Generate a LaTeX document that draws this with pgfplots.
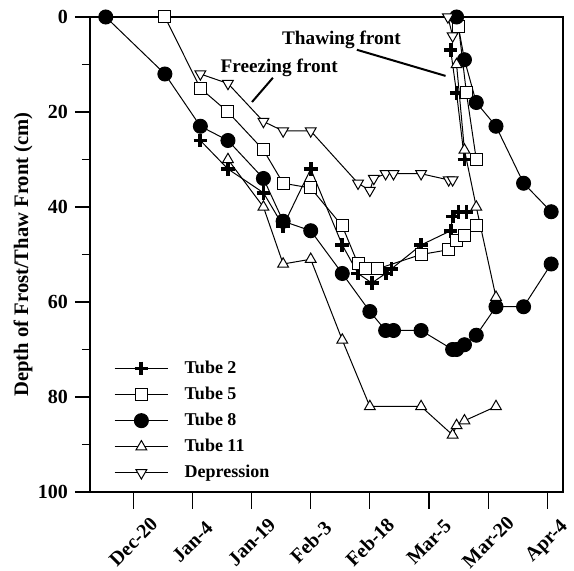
\documentclass[border=0pt]{standalone}
\usepackage{fontspec}
\setmainfont{Liberation Serif}
\usepackage{pgfplots}
\pgfplotsset{compat=1.18}
\begin{document}
\begin{tikzpicture}
\begin{axis}[
  scale only axis, width=236.5pt, height=237.5pt,
  xmin=-11, xmax=109, ymin=0, ymax=100, y dir=reverse,
  clip=false,
  xtick={0,15,30,45,60,75,90,105},
  xticklabels={Dec-20,Jan-4,Jan-19,Feb-3,Feb-18,Mar-5,Mar-20,Apr-4},
  xtick pos=lower, xticklabel pos=lower,
  ytick={0,20,40,60,80,100}, minor ytick={10,30,50,70,90},
  ytick pos=left,
  tick align=outside,
  major tick length=7.5pt, minor tick length=4pt,
  xtick style={/pgfplots/major tick length=8.5pt},
  tick style={black, line width=0.6pt},
  axis line style={line width=0.7pt},
  /pgf/number format/assume math mode=true,
  tick label style={font=\fontsize{10}{12}\selectfont\bfseries},
  xticklabel style={yshift=-17.5pt, rotate=45, anchor=center},
  every axis y label/.style={at={(axis description cs:-0.1416,0.5)}, rotate=90, anchor=center},
  ylabel={Depth of Frost/Thaw Front (cm)},
  ylabel style={font=\fontsize{10.3}{12}\selectfont\bfseries},
  legend cell align=left,
  legend style={at={(axis cs:-6.5,70.6)}, anchor=north west, draw=none, fill=none,
    font=\fontsize{9}{10}\selectfont\bfseries, row sep=1.3pt, column sep=6pt},
  legend image code/.code={\draw[mark repeat=2,mark phase=2,#1] plot coordinates {(0cm,0cm) (0.47cm,0cm) (0.94cm,0cm)};},
  every axis plot/.append style={black, line width=0.5pt},
]
% Tube 2
\addplot[mark=+, mark size=3.4pt, mark options={line width=1.9pt}] coordinates {
(17,26) (24,32) (33,37) (38,44) (45,32) (53,48) (57,54) (60.5,56) (64,54) (65.5,53) (73,48) (80.5,45) (81,42) (82.5,41) (84.5,41)};
\addlegendentry{Tube 2}
% Tube 5
\addplot[mark=square*, mark size=3pt, mark options={fill=white, line width=0.5pt}] coordinates {
(8,0) (17,15) (24,20) (33,28) (38,35) (45,36) (53,44) (57,52) (59,53) (62,53) (73,50) (80,49) (82,47) (84,46) (87,44)};
\addlegendentry{Tube 5}
% Tube 8
\addplot[mark=*, mark size=3.5pt, mark options={fill=black}] coordinates {
(-7,0) (8,12) (17,23) (24,26) (33,34) (38,43) (45,45) (53,54) (60,62) (64,66) (66,66) (73,66) (81,70) (82,70) (84,69) (87,67) (92,61) (99,61) (106,52)};
\addlegendentry{Tube 8}
% Tube 11
\addplot[mark=triangle*, mark size=3.1pt, mark options={fill=white, line width=0.5pt}] coordinates {
(24,30) (33,40) (38,52) (45,51) (53,68) (60,82) (73,82) (81,88) (82,86) (84,85) (92,82)};
\addlegendentry{Tube 11}
% Depression
\addplot[mark=triangle*, mark size=3.1pt, mark options={fill=white, line width=0.5pt, rotate=180}] coordinates {
(17,12) (24,14) (33,22) (38,24) (45,24) (57,35) (60,36.5) (61,34) (64,33) (66,33) (73,33) (80,34.3) (81,34.3)};
\addlegendentry{Depression}
% thawing fronts
\addplot[forget plot, mark=+, mark size=3.4pt, mark options={line width=1.9pt}] coordinates {(80.5,7) (82,16) (84,30)};
\addplot[forget plot, mark=square*, mark size=3pt, mark options={fill=white, line width=0.5pt}] coordinates {(82.5,2) (84.5,16) (87,30)};
\addplot[forget plot, mark=*, mark size=3.5pt, mark options={fill=black}] coordinates {(82,0) (84,9) (87,18) (92,23) (99,35) (106,41)};
\addplot[forget plot, mark=triangle*, mark size=3.1pt, mark options={fill=white, line width=0.5pt}] coordinates {(82,10) (84,28) (87,40) (92,59)};
\addplot[forget plot, mark=triangle*, mark size=3.1pt, mark options={fill=white, line width=0.5pt, rotate=180}] coordinates {(79.8,0) (81,4)};
% annotations
\node[font=\fontsize{9.6}{11}\selectfont\bfseries] at (axis cs:52.8,4.8) {Thawing front};
\draw[line width=1pt] (axis cs:56.7,6.9) -- (axis cs:79.2,12.4);
\node[font=\fontsize{9.6}{11}\selectfont\bfseries] at (axis cs:37,10.7) {Freezing front};
\draw[line width=1pt] (axis cs:35.4,12.8) -- (axis cs:30.1,17.9);
\coordinate (bl) at (axis cs:-11,100);
\coordinate (tr) at (axis cs:109,0);
\end{axis}
\pgfresetboundingbox
\path ([shift={(-45pt,-39.5pt)}]bl) rectangle ([shift={(5.5pt,8.5pt)}]tr);
\end{tikzpicture}
\end{document}
